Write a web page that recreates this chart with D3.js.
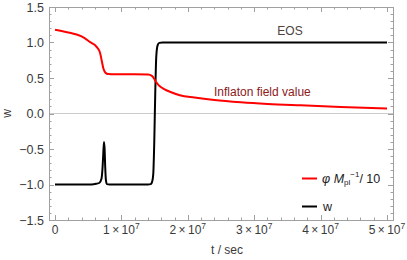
<!DOCTYPE html>
<html>
<head>
<meta charset="utf-8">
<script src="https://cdn.jsdelivr.net/npm/d3@7"></script>
<style>
  body { margin: 0; background: #fff; }
  text { font-family: "Liberation Sans", Arial, sans-serif; }
</style>
</head>
<body>
<div id="chart"></div>
<script>
// values (t in units of 1e7 sec)
var phiT = [0, 0.2, 0.4, 0.53, 0.63, 0.68, 0.70, 0.73, 0.76, 0.8, 0.9, 1.2, 1.4, 1.46, 1.5, 1.52, 1.57, 1.65, 1.73, 1.88, 2.1, 2.4, 2.8, 3.2, 3.7, 4.3, 5.0]
var phiVals = [1.18, 1.14, 1.085, 1.005, 0.935, 0.85, 0.76, 0.63, 0.575, 0.556, 0.553, 0.552, 0.548, 0.53, 0.48, 0.446, 0.39, 0.34, 0.307, 0.258, 0.225, 0.19, 0.158, 0.135, 0.115, 0.093, 0.07]

var wT = [0, 0.55, 0.62, 0.67, 0.70, 0.717, 0.728, 0.738, 0.747, 0.756, 0.767, 0.782, 0.82, 1.40, 1.44, 1.46, 1.48, 1.495, 1.51, 1.525, 1.545, 1.57, 1.62, 5.0]
var wVals = [-1, -1, -0.99, -0.975, -0.92, -0.75, -0.55, -0.40, -0.5, -0.75, -0.94, -0.995, -1, -1, -0.995, -0.97, -0.85, -0.4, 0.3, 0.8, 0.96, 0.995, 1, 1]

var xTicks = [0, 1, 2, 3, 4, 5]
var yTicks = [-1.5, -1.0, -0.5, 0.0, 0.5, 1.0, 1.5]

var width = 407, height = 260
var frame = {left: 49, right: 393, top: 7, bottom: 220}

var svg = d3.select("#chart").append("svg")
    .attr("width", width)
    .attr("height", height)

var x = d3.scaleLinear().domain([0, 5]).range([55, 387])
var y = d3.scaleLinear().domain([-1.5, 1.5]).range([frame.bottom, frame.top])

var frameColor = "#a0a0a0"
var labelColor = "#3a3a3a"

// zero line
svg.append("line")
    .attr("x1", frame.left).attr("x2", frame.right)
    .attr("y1", y(0)).attr("y2", y(0))
    .attr("stroke", "#cccccc").attr("stroke-width", 1)

// minor + major ticks, inward on all four sides
var xMinor = d3.range(0, 5.001, 0.2)
var yMinor = d3.range(-1.5, 1.501, 0.1)
var ticks = svg.append("g").attr("stroke", frameColor).attr("stroke-width", 1)
xMinor.forEach(function(t) {
  var major = Math.abs(t - Math.round(t)) < 1e-6
  var len = major ? 5 : 2.5
  var px = Math.round(x(t)) + 0.5
  ticks.append("line").attr("x1", px).attr("x2", px).attr("y1", frame.bottom).attr("y2", frame.bottom - len)
  ticks.append("line").attr("x1", px).attr("x2", px).attr("y1", frame.top).attr("y2", frame.top + len)
})
yMinor.forEach(function(v) {
  var major = Math.abs(v * 2 - Math.round(v * 2)) < 1e-6
  var len = major ? 5 : 2.5
  var py = Math.round(y(v)) + 0.5
  ticks.append("line").attr("x1", frame.left).attr("x2", frame.left + len).attr("y1", py).attr("y2", py)
  ticks.append("line").attr("x1", frame.right).attr("x2", frame.right - len).attr("y1", py).attr("y2", py)
})

// frame
svg.append("rect")
    .attr("x", frame.left + 0.5).attr("y", frame.top + 0.5)
    .attr("width", frame.right - frame.left).attr("height", frame.bottom - frame.top)
    .attr("fill", "none").attr("stroke", frameColor).attr("stroke-width", 1)

// tick labels
svg.append("g").selectAll("text")
    .data(yTicks)
    .join("text")
      .attr("x", 44)
      .attr("y", d => y(d) + 4.5)
      .attr("text-anchor", "end")
      .style("font-size", "12.5px")
      .style("fill", labelColor)
      .text(d => d3.format(".1f")(d).replace("-", "\u2212"))

var xl = svg.append("g").selectAll("text")
    .data(xTicks)
    .join("text")
      .attr("x", d => x(d))
      .attr("y", 234)
      .attr("text-anchor", "middle")
      .style("font-size", "12px")
      .style("fill", labelColor)
xl.each(function(d) {
  var t = d3.select(this)
  if (d === 0) { t.text("0"); return }
  t.append("tspan").text(d + "\u2009\u00d7\u200910")
  t.append("tspan").attr("dy", -5).style("font-size", "8.5px").text("7")
})

// axis titles
svg.append("text")
    .attr("x", 227)
    .attr("y", 254)
    .attr("text-anchor", "middle")
    .style("font-size", "12px")
    .style("fill", labelColor)
    .text("t / sec")

svg.append("text")
    .attr("transform", "translate(11," + y(0) + ") rotate(-90)")
    .attr("text-anchor", "middle")
    .style("font-size", "12px")
    .style("fill", labelColor)
    .text("w")

// curves
var phiData = phiT.map((t, i) => [t, phiVals[i]])
var wData = wT.map((t, i) => [t, wVals[i]])
var line = d3.line().x(d => x(d[0])).y(d => y(d[1])).curve(d3.curveMonotoneX)

svg.append("path").datum(wData)
    .attr("d", line)
    .attr("fill", "none").attr("stroke", "#000").attr("stroke-width", 2)

svg.append("path").datum(phiData)
    .attr("d", line)
    .attr("fill", "none").attr("stroke", "#ff0000").attr("stroke-width", 2)

// in-plot labels
svg.append("text")
    .attr("x", 290).attr("y", 35)
    .attr("text-anchor", "middle")
    .style("font-size", "12px")
    .style("fill", "#4d4340")
    .text("EOS")

svg.append("text")
    .attr("x", 214).attr("y", 96)
    .style("font-size", "12px")
    .style("fill", "#8b1a1a")
    .text("Inflaton field value")

// legend
var legend = svg.append("g")
legend.append("line")
    .attr("x1", 302).attr("x2", 317).attr("y1", 178.5).attr("y2", 178.5)
    .attr("stroke", "#ff0000").attr("stroke-width", 2)
legend.append("line")
    .attr("x1", 302).attr("x2", 317).attr("y1", 206.5).attr("y2", 206.5)
    .attr("stroke", "#000").attr("stroke-width", 2)

var lt = legend.append("text")
    .attr("x", 322).attr("y", 183)
    .style("font-size", "12.5px")
    .style("fill", "#222")
lt.append("tspan").style("font-style", "italic").text("\u03c6 M")
lt.append("tspan").attr("dy", 2).style("font-size", "8px").text("pl")
lt.append("tspan").attr("dy", -8).style("font-size", "8px").text("\u22121")
lt.append("tspan").attr("dy", 6).text("/ 10")

legend.append("text")
    .attr("x", 323).attr("y", 211)
    .style("font-size", "12.5px")
    .style("fill", "#222")
    .text("w")
</script>
</body>
</html>
